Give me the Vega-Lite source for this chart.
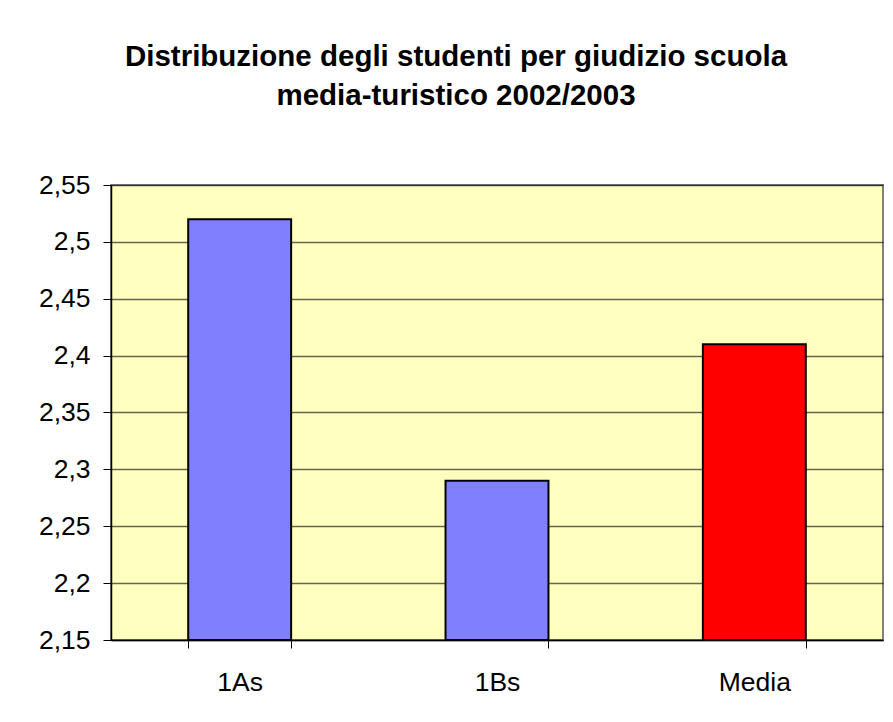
{
  "$schema": "https://vega.github.io/schema/vega-lite/v6.json",
  "autosize": {"type": "none"},
  "width": 772,
  "height": 455,
  "padding": {"left": 111, "top": 185, "right": 10, "bottom": 82},
  "background": "#ffffff",
  "title": {
    "text": ["Distribuzione degli studenti per giudizio scuola", "media-turistico 2002/2003"],
    "anchor": "middle",
    "frame": "group",
    "dx": -41,
    "offset": 32,
    "baseline": "bottom",
    "lineHeight": 39,
    "font": "Liberation Sans",
    "fontSize": 29.5,
    "fontWeight": "bold",
    "color": "#000000"
  },
  "data": {
    "values": [
      {"classe": "1As", "giudizio": 2.52, "tipo": "classe"},
      {"classe": "1Bs", "giudizio": 2.29, "tipo": "classe"},
      {"classe": "Media", "giudizio": 2.41, "tipo": "media"}
    ]
  },
  "mark": {"type": "bar", "stroke": "#000000", "strokeWidth": 2},
  "encoding": {
    "x": {
      "field": "classe",
      "type": "nominal",
      "sort": null,
      "scale": {"paddingInner": 0.6, "paddingOuter": 0.3},
      "axis": {
        "title": null,
        "labelAngle": 0,
        "tickBand": "extent",
        "tickSize": 8,
        "tickColor": "#000000",
        "domainColor": "#000000",
        "domainWidth": 1.5,
        "labelPadding": 21,
        "labelFont": "Liberation Sans",
        "labelFontSize": 26.5,
        "labelColor": "#000000",
        "grid": false
      }
    },
    "y": {
      "field": "giudizio",
      "type": "quantitative",
      "scale": {"domain": [2.15, 2.55], "nice": false, "zero": false},
      "axis": {
        "title": null,
        "values": [2.15, 2.2, 2.25, 2.3, 2.35, 2.4, 2.45, 2.5, 2.55],
        "labelExpr": "replace(format(datum.value, '.2~f'), '.', ',')",
        "tickSize": 8,
        "tickColor": "#000000",
        "domainColor": "#000000",
        "domainWidth": 1.5,
        "labelPadding": 13,
        "labelFont": "Liberation Sans",
        "labelFontSize": 26.5,
        "labelColor": "#000000",
        "grid": true,
        "gridColor": "#000000",
        "gridOpacity": 0.6,
        "gridWidth": 1.5
      }
    },
    "y2": {"datum": 2.15},
    "color": {
      "field": "tipo",
      "type": "nominal",
      "scale": {"domain": ["classe", "media"], "range": ["#8080FF", "#FF0000"]},
      "legend": null
    }
  },
  "config": {
    "view": {"fill": "#FFFFC0", "stroke": "#808080", "strokeWidth": 2}
  }
}
